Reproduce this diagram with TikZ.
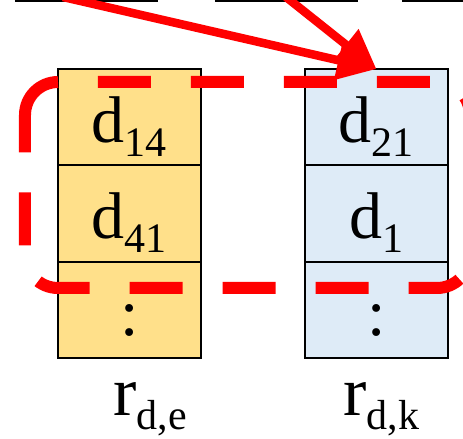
\documentclass[tikz,border=0pt]{standalone}
\usepackage{fontspec}
\setmainfont{Liberation Serif}
\usepackage{tikz}
\usetikzlibrary{arrows.meta,positioning}
\definecolor{cellYellow}{RGB}{255,224,138}
\definecolor{cellBlue}{RGB}{222,235,247}
\definecolor{markRed}{RGB}{255,0,0}
\newcommand{\lowidx}[1]{\raisebox{-7pt}{\fontsize{21}{21}\selectfont #1}}

\begin{document}
\begin{tikzpicture}[x=0.5pt, y=-0.5pt,
    cell/.style={draw=black, line width=1pt, minimum width=71.5pt,
      minimum height=48.15pt, inner sep=0pt, outer sep=0pt,
      text height=25.5pt, text depth=0pt, font=\fontsize{33}{36}\selectfont},
    cellE/.style={cell, fill=cellYellow},
    cellK/.style={cell, fill=cellBlue},
    rlabel/.style={inner sep=0pt, anchor=base west,
      font=\fontsize{35}{38}\selectfont},
    redarrow/.style={draw=markRed, line width=4.25pt,
      -{Triangle[length=19.5pt,width=19pt]}},
    reddash/.style={draw=markRed, line width=6pt, rounded corners=16.5pt}
  ]
  \useasboundingbox (0,0) rectangle (463,439);

  % boxes above (cut off)
  \draw[line width=1.5pt] (15,1) -- (158,1);
  \draw[line width=1.5pt] (215,1) -- (358,1);
  \draw[line width=1.5pt] (402,1) -- (470,1);

  % r_{d,e}
  \node[cellE] (e1) at (129.5,117.2) {d\lowidx{14}};
  \node[cellE, below=0pt of e1] (e2) {d\lowidx{41}};
  \node[cellE, below=0pt of e2] (e3) {:};
  % r_{d,k}
  \node[cellK, right=52pt of e1] (k1) {d\lowidx{21}};
  \node[cellK, below=0pt of k1] (k2) {d\lowidx{1}};
  \node[cellK, below=0pt of k2] (k3) {:};

  \node[rlabel] (lblE) at (113,416) {r\lowidx{d,e}};
  \node[rlabel] (lblK) at (343,416) {r\lowidx{d,k}};

  % selection
  \draw[reddash, dash pattern=on 26.5pt off 20pt, dash phase=26.5pt]
    (58,82) -- (470,82) -- (470,288) -- (25,288) -- (25,148);
  \draw[reddash] (25,148) -- (25,82) -- (58,82);

  \coordinate (srcA) at (63,-3);
  \coordinate (srcB) at (286,-3);
  \draw[redarrow] (srcA) -- (k1.north);
  \draw[redarrow] (srcB) -- (k1.north);
\end{tikzpicture}
\end{document}
